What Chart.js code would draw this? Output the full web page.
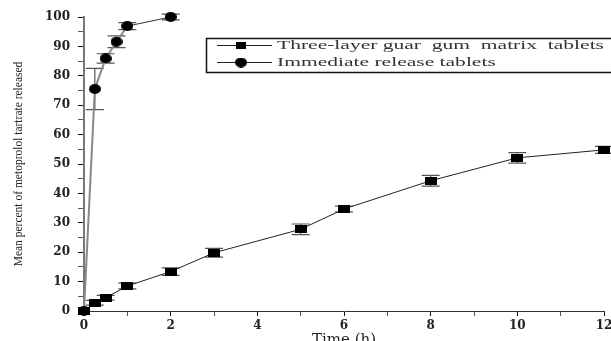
<!DOCTYPE html>
<html>
<head>
<meta charset="utf-8">
<script src="https://cdn.jsdelivr.net/npm/chart.js@4.4.0/dist/chart.umd.min.js"></script>
<style>
  html, body { margin: 0; padding: 0; background: #fff; overflow: hidden; }
  #wrap { width: 625px; height: 350px; position: relative; }
</style>
</head>
<body>
<div id="wrap"><canvas id="chart"></canvas></div>
<script>
// three-layer guar gum matrix tablets
const guarTimes = [0, 0.25, 0.5, 1, 2, 3, 5, 6, 8, 10, 12];
const guarMean  = [0, 2.8, 4.5, 8.5, 13.4, 19.8, 27.8, 34.7, 44.3, 52.1, 54.8];
const guarErr   = [0, 0.8, 0.8, 1.0, 1.3, 1.5, 1.8, 1.0, 1.8, 1.8, 1.2];
// immediate release tablets
const irTimes = [0, 0.25, 0.5, 0.75, 1, 2];
const irMean  = [0, 75.5, 85.9, 91.6, 96.9, 100];
const irErr   = [0, 7.0, 1.6, 2.0, 1.2, 1.0];

const xLabels = [0, 2, 4, 6, 8, 10, 12];
const yLabels = [0, 10, 20, 30, 40, 50, 60, 70, 80, 90, 100];
const seriesNames = ['Three-layer guar  gum  matrix  tablets', 'Immediate release tablets'];

function markCanvas(w, h, round){
  const c = document.createElement('canvas');
  c.width = w; c.height = h;
  const g = c.getContext('2d');
  g.fillStyle = '#000';
  if (round) { g.beginPath(); g.ellipse(w/2, h/2, w/2, h/2, 0, 0, Math.PI*2); g.fill(); }
  else g.fillRect(0, 0, w, h);
  return c;
}
const squareMark = markCanvas(12, 8, false);
const circleMark = markCanvas(12, 10, true);

function toPoints(xs, ys){ return xs.map((x, i)=>({ x, y: ys[i] })); }

// vertical error bars with caps, drawn under the markers
const errorBars = {
  id: 'errorBars',
  beforeDatasetsDraw(chart){
    const ctx = chart.ctx;
    const xs = chart.scales.x, ys = chart.scales.y;
    const sets = [[guarTimes, guarMean, guarErr], [irTimes, irMean, irErr]];
    ctx.save();
    ctx.strokeStyle = '#555';
    ctx.lineWidth = 1.2;
    sets.forEach(([t, m, e])=>{
      t.forEach((tv, i)=>{
        if (!e[i]) return;
        const px = xs.getPixelForValue(tv);
        const top = ys.getPixelForValue(m[i] + e[i]);
        const bot = ys.getPixelForValue(m[i] - e[i]);
        ctx.beginPath();
        ctx.moveTo(px, top); ctx.lineTo(px, bot);
        ctx.moveTo(px - 9, top); ctx.lineTo(px + 9, top);
        ctx.moveTo(px - 9, bot); ctx.lineTo(px + 9, bot);
        ctx.stroke();
      });
    });
    ctx.restore();
  }
};

// boxed legend inside the plot, text stretched like the original figure
const boxLegend = {
  id: 'boxLegend',
  afterDraw(chart){
    const ctx = chart.ctx;
    ctx.save();
    ctx.strokeStyle = '#111';
    ctx.lineWidth = 1.5;
    ctx.strokeRect(206.5, 38.5, 430, 34);
    ctx.lineWidth = 1;
    ctx.strokeStyle = '#222';
    const rows = [45.5, 62.5];
    rows.forEach((y, i)=>{
      ctx.beginPath(); ctx.moveTo(217, y); ctx.lineTo(272, y); ctx.stroke();
      const mk = i === 0 ? markCanvas(10, 7, false) : markCanvas(12, 10, true);
      ctx.drawImage(mk, 241 - mk.width/2, y - mk.height/2);
    });
    ctx.fillStyle = '#333';
    ctx.font = '13px "Liberation Serif", serif';
    ctx.textBaseline = 'middle';
    const w = ctx.measureText(seriesNames[0]).width;
    const sx = 327 / w;
    seriesNames.forEach((name, i)=>{
      ctx.save();
      ctx.translate(277, rows[i]);
      ctx.scale(sx, 1);
      ctx.fillText(name, 0, 0);
      ctx.restore();
    });
    ctx.restore();
  }
};

const tickFont = { family: '"DejaVu Serif", serif', size: 12, weight: 'bold' };

new Chart(document.getElementById('chart'), {
  type: 'line',
  data: {
    datasets: [
      {
        label: seriesNames[0],
        data: toPoints(guarTimes, guarMean),
        borderColor: '#222',
        borderWidth: 1,
        pointStyle: squareMark,
        clip: false,
        order: 1
      },
      {
        label: seriesNames[1],
        data: toPoints(irTimes, irMean),
        borderColor: '#888',
        borderWidth: 2,
        pointStyle: circleMark,
        clip: false,
        order: 0,
        segment: {
          borderColor: c => c.p0DataIndex >= 4 ? '#333' : '#888',
          borderWidth: c => c.p0DataIndex >= 4 ? 1 : 2
        }
      }
    ]
  },
  options: {
    responsive: true,
    maintainAspectRatio: false,
    animation: false,
    layout: { padding: { top: 17, right: 21, left: 0, bottom: 0 } },
    plugins: { legend: { display: false }, tooltip: { enabled: false } },
    scales: {
      x: {
        type: 'linear',
        min: 0, max: 12,
        afterFit: s => { s.height = 39; },
        grid: { drawOnChartArea: false, tickLength: 5, tickColor: c => xLabels.includes(c.tick.value) ? '#111' : '#555' },
        border: { color: '#333', width: 1 },
        ticks: {
          stepSize: 1, autoSkip: false, maxRotation: 0, padding: 3,
          color: '#222', font: tickFont,
          callback: v => xLabels.includes(v) ? String(v) : ''
        },
        title: {
          display: true, text: 'Time (h)', color: '#222',
          font: { family: '"DejaVu Serif", serif', size: 15 },
          padding: { top: 0, bottom: 1 }
        }
      },
      y: {
        min: 0, max: 100,
        afterFit: s => { s.width = 84; },
        grid: { drawOnChartArea: false, tickLength: 6, tickColor: c => yLabels.includes(c.tick.value) ? '#111' : '#555' },
        border: { color: '#777', width: 2 },
        ticks: {
          stepSize: 5, autoSkip: false, padding: 8,
          color: '#222', font: tickFont,
          callback: v => yLabels.includes(v) ? String(v) : ''
        },
        title: {
          display: true, text: 'Mean percent of metoprolol tartrate released', color: '#222',
          font: { family: '"Liberation Serif", serif', size: 11.5 },
          padding: { top: 12, bottom: 0 }
        }
      }
    }
  },
  plugins: [errorBars, boxLegend]
});
</script>
</body>
</html>
